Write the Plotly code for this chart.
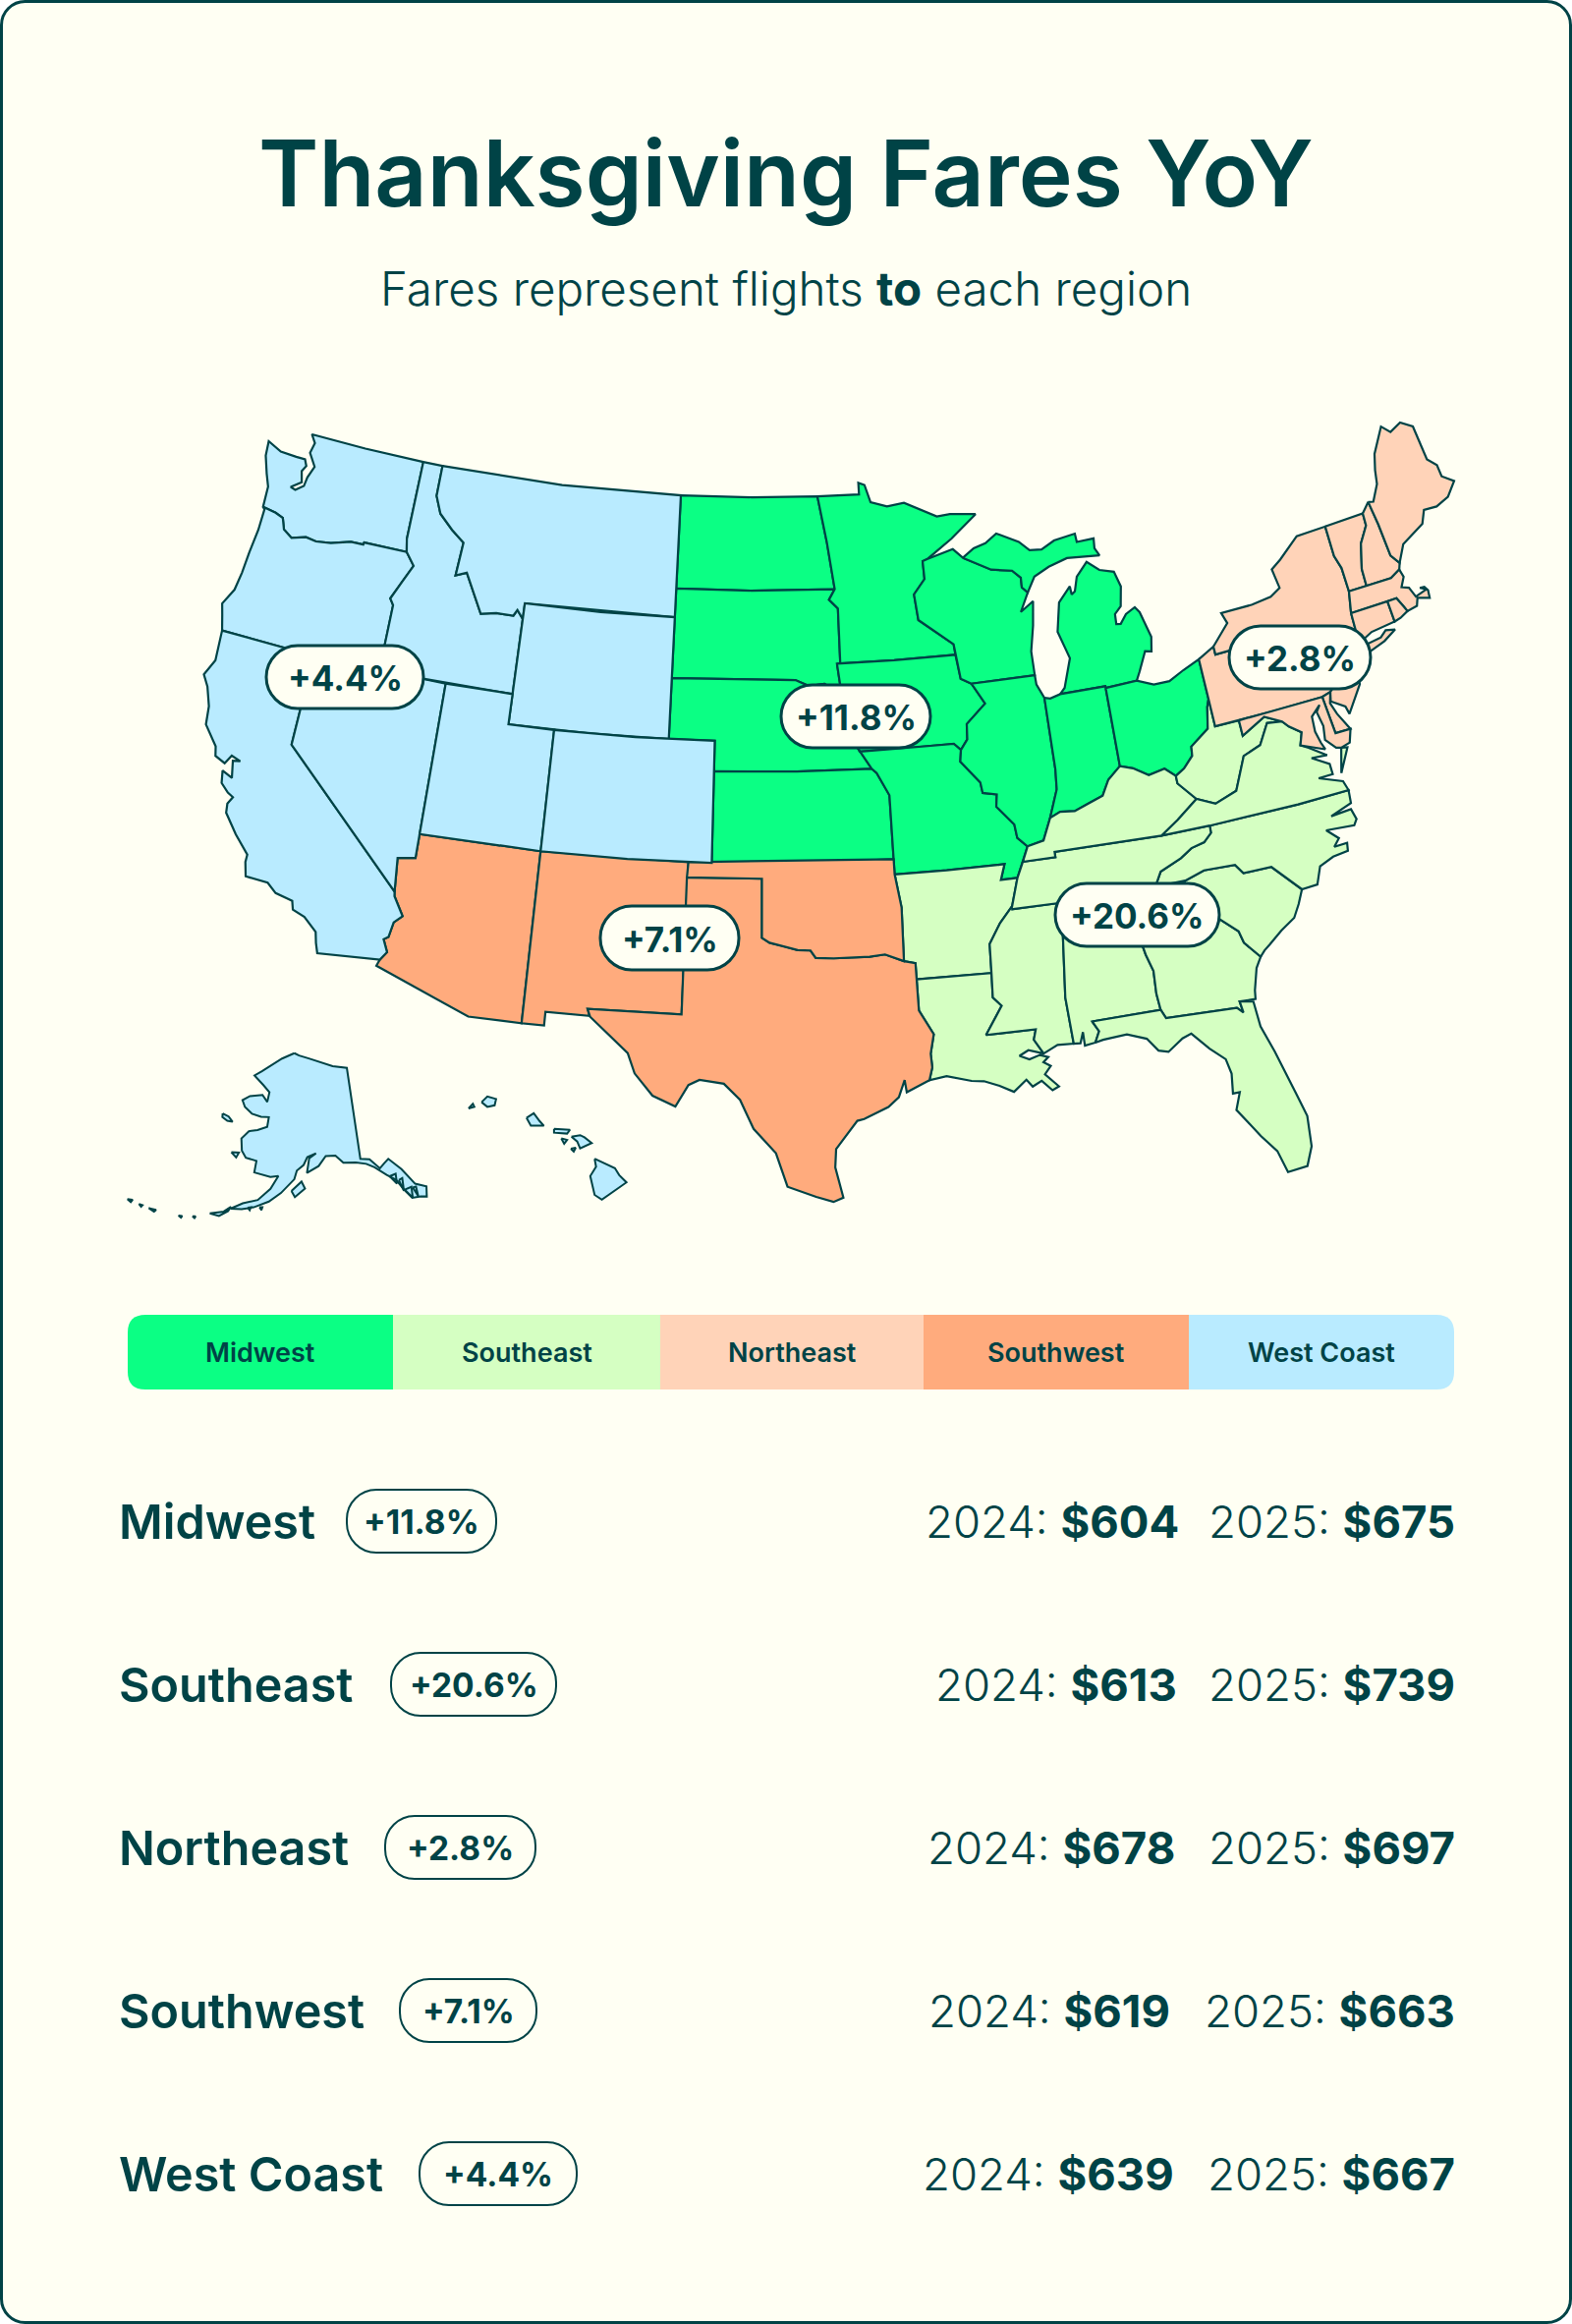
import math
import plotly.graph_objects as go

# ---------- values ----------
REGIONS = ["Midwest", "Southeast", "Northeast", "Southwest", "West Coast"]
PCT_CHANGE = [11.8, 20.6, 2.8, 7.1, 4.4]
FARES_2024 = [604, 613, 678, 619, 639]
FARES_2025 = [675, 739, 697, 663, 667]
TITLE = "Thanksgiving Fares YoY"
SUBTITLE = "Fares represent flights <b>to</b> each region"

# ---------- colours ----------
INK = "#004346"
PAPER = "#FFFFF3"
REGION_COLORS = ["#0BFF84", "#D5FFC2", "#FFD3B8", "#FFAB7D", "#B9EBFF"]

# ---------- state outlines, (lon, lat); a state may have several parts ----------
WA = [[(-117.03,49),(-120,49),(-122.76,49),(-122.5,48.75),(-122.6,48.4),(-122.2,48.0),(-122.4,47.6),(-122.45,47.3),(-122.8,47.1),(-123.05,47.15),(-122.6,47.4),(-122.75,47.75),(-122.6,47.95),(-122.75,48.15),(-123.2,48.15),(-124.0,48.17),(-124.72,48.38),(-124.65,47.9),(-124.35,47.35),(-124.1,46.95),(-124.05,46.27),(-123.4,46.2),(-123.0,46.1),(-122.8,45.75),(-122.35,45.55),(-121.7,45.7),(-121.2,45.65),(-120.5,45.72),(-119.6,45.92),(-119.0,45.93),(-118.98,46.0),(-116.92,46.0),(-117.04,46.42)]]
OR = [[(-124.05,46.27),(-123.4,46.2),(-123.0,46.1),(-122.8,45.75),(-122.35,45.55),(-121.7,45.7),(-121.2,45.65),(-120.5,45.72),(-119.6,45.92),(-119.0,45.93),(-118.98,46.0),(-116.92,46.0),(-116.75,45.85),(-116.47,45.6),(-116.85,45.0),(-117.22,44.4),(-117.03,44.2),(-117.03,42),(-120,42),(-124.2,42),(-124.4,42.5),(-124.55,42.85),(-124.2,43.4),(-124.1,44.0),(-124.05,44.7),(-123.95,45.5),(-123.95,46.2)]]
CA = [[(-124.2,42),(-120,42),(-120,39),(-114.63,35),(-114.6,34.85),(-114.15,34.25),(-114.45,34),(-114.55,33.5),(-114.72,33.4),(-114.5,33),(-114.72,32.72),(-117.12,32.53),(-117.25,32.85),(-117.35,33.2),(-117.9,33.6),(-118.4,33.75),(-118.5,34.03),(-119.2,34.15),(-119.6,34.42),(-120.5,34.45),(-120.65,34.9),(-120.65,35.15),(-121.3,35.7),(-121.9,36.3),(-121.95,36.6),(-121.8,36.85),(-122.05,36.95),(-122.4,37.2),(-122.5,37.6),(-122.05,37.45),(-122.2,38.0),(-121.9,38.05),(-122.3,38.15),(-122.5,37.85),(-122.95,38.0),(-123.05,38.3),(-123.7,38.9),(-123.8,39.5),(-124.1,40.1),(-124.4,40.45),(-124.1,41.0)]]
NV = [[(-120,42),(-114.04,42),(-114.04,37),(-114.04,36.2),(-114.4,36.15),(-114.75,36.1),(-114.63,35),(-120,39)]]
ID = [[(-117.03,49),(-116.05,49),(-116.05,48),(-115.7,47.45),(-115,47),(-114.35,46.65),(-114.45,45.55),(-113.95,45.7),(-113.45,45.05),(-113,44.45),(-112.3,44.55),(-111.5,44.55),(-111.35,44.75),(-111.05,44.48),(-111.05,42),(-117.03,42),(-117.03,44.2),(-117.22,44.4),(-116.85,45),(-116.47,45.6),(-116.75,45.85),(-116.92,46),(-117.04,46.42)]]
MT = [[(-116.05,49),(-110,49),(-104.05,49),(-104.05,45),(-111.05,45),(-111.05,44.48),(-111.35,44.75),(-111.5,44.55),(-112.3,44.55),(-113,44.45),(-113.45,45.05),(-113.95,45.7),(-114.45,45.55),(-114.35,46.65),(-115,47),(-115.7,47.45),(-116.05,48)]]
WY = [[(-111.05,45),(-107.5,45),(-104.05,45),(-104.05,41),(-107.5,41),(-111.05,41)]]
UT = [[(-114.04,42),(-111.05,42),(-111.05,41),(-109.05,41),(-109.05,37),(-114.04,37)]]
CO = [[(-109.05,41),(-105.5,41),(-102.05,41),(-102.05,37),(-105.5,37),(-109.05,37)]]
AK = [[(-156.5,71.3),(-155,71.1),(-152,70.85),(-149,70.5),(-145,70),(-141,69.65),(-141,60.3),(-139.2,60.1),(-137.5,59),(-136.5,59.4),(-135.5,59.75),(-133.5,58.4),(-131.8,56.6),(-130,56),(-130.5,55),(-131.5,55.2),(-133,55.3),(-134,56.3),(-135,57.5),(-136.5,58.2),(-138.5,59.2),(-140,59.7),(-142,60),(-144.5,60.1),(-146,60.9),(-148,60.9),(-149.5,59.9),(-151.8,59.2),(-151.4,60.7),(-150,61.2),(-151.8,60.8),(-152.5,60),(-153.8,59.4),(-154.2,58.5),(-156.5,57),(-158.5,56),(-161,55.2),(-163,54.8),(-164.9,54.6),(-163,55.4),(-160.5,56),(-158.5,57.3),(-157.3,58.7),(-158.8,58.5),(-162,58.7),(-162,59.9),(-164.2,60),(-165.3,60.6),(-166,61.8),(-164.8,62.7),(-163,63),(-161,63.5),(-161,64.5),(-162.8,64.4),(-165,64.5),(-167,65),(-168,65.6),(-166.5,66.2),(-163.5,66.6),(-162,66),(-161.9,67),(-163.8,67.6),(-166.7,68.35),(-165,68.95),(-163,69.7),(-160,70.6)],
      [(-171.5,63.7),(-170,63.6),(-168.8,63.2),(-170,63.15),(-171.3,63.35)],
      [(-167.3,60.2),(-165.8,60.35),(-166.1,59.8)],
      [(-154.6,57.3),(-152.8,58.3),(-152.1,57.6),(-153.9,56.7)],
      [(-168.1,53.6),(-166.8,53.95),(-165.9,54.15),(-164.9,54.8),(-165.2,54.3),(-166.5,53.6)],
      [(-170.7,52.8),(-170.2,52.9),(-170.3,52.7)],
      [(-172.9,52.4),(-172.3,52.5),(-172.4,52.3)],
      [(-177.8,51.95),(-176.6,52.1),(-176.8,51.85)],
      [(-179.5,51.9),(-178.9,51.95),(-179,51.75)],
      [(-181.5,51.8),(-180.7,52),(-180.8,51.7)],
      [(-162,55.05),(-161.5,55.15),(-161.6,54.85)],
      [(-160,55.3),(-159.5,55.35),(-159.6,55.05)],
      [(-136,58.0),(-134.8,58.1),(-135.0,57.1)],
      [(-134.5,57.4),(-133.8,57.5),(-134.1,56.2)],
      [(-133.9,56.3),(-132.6,56.4),(-132.9,55.3)],
      [(-132.4,56.3),(-131.8,56.3),(-131.9,55.3)]]
HI_HAWAII = [(-155.9,20.25),(-155.2,19.95),(-155.05,19.73),(-154.8,19.5),(-155.65,18.95),(-155.9,19.1),(-156.05,19.7),(-155.85,20.0)]
HI_MAUI = [(-156.7,20.95),(-156.4,21.0),(-156.25,20.93),(-156.0,20.75),(-156.4,20.58),(-156.5,20.8)]
HI_MOLOKAI = [(-157.3,21.2),(-156.75,21.17),(-156.85,21.05),(-157.3,21.08)]
HI_LANAI = [(-157.05,20.9),(-156.85,20.85),(-156.95,20.73)]
HI_KAHOOLAWE = [(-156.72,20.57),(-156.55,20.6),(-156.62,20.48)]
HI_OAHU = [(-158.25,21.55),(-158.0,21.7),(-157.8,21.45),(-157.65,21.3),(-158.1,21.3)]
HI_KAUAI = [(-159.8,22.05),(-159.6,22.23),(-159.3,22.15),(-159.35,21.95),(-159.6,21.9)]
HI_NIIHAU = [(-160.25,21.85),(-160.1,22.0),(-160.05,21.9)]
HI = [HI_HAWAII, HI_MAUI, HI_MOLOKAI, HI_LANAI, HI_KAHOOLAWE, HI_OAHU, HI_KAUAI, HI_NIIHAU]
AZ = [[(-114.04,37),(-109.05,37),(-109.05,31.33),(-111.07,31.33),(-114.81,32.5),(-114.72,32.72),(-114.5,33),(-114.72,33.4),(-114.55,33.5),(-114.45,34),(-114.15,34.25),(-114.6,34.85),(-114.63,35),(-114.75,36.1),(-114.4,36.15),(-114.04,36.2)]]
NM = [[(-109.05,37),(-103,37),(-103.05,32),(-106.62,32),(-106.53,31.78),(-108.2,31.78),(-108.2,31.33),(-109.05,31.33)]]
TX = [[(-103.04,36.5),(-100,36.5),(-100,34.56),(-99.7,34.4),(-99.2,34.3),(-98.6,34.15),(-98.1,34.13),(-97.9,33.88),(-97.2,33.85),(-96.6,33.85),(-95.8,33.85),(-95.2,33.9),(-94.48,33.64),(-94.04,33.55),(-94.04,33.02),(-94.04,31.99),(-93.55,31.18),(-93.72,30.55),(-93.7,30.1),(-93.84,29.69),(-94.7,29.35),(-94.75,29.75),(-95,29.2),(-95.4,28.9),(-96.3,28.55),(-96.55,28.5),(-97,28),(-97.35,27.6),(-97.4,27),(-97.15,26),(-97.5,25.87),(-98.1,26.05),(-99.1,26.4),(-99.5,27.5),(-100.3,28.3),(-100.8,29.25),(-101.4,29.77),(-102.3,29.88),(-102.7,29.7),(-103.15,28.98),(-104,29.3),(-104.7,30),(-105,30.65),(-106.5,31.75),(-106.62,32),(-103.05,32)]]
OK = [[(-103,37),(-94.62,37),(-94.62,36.5),(-94.43,35.4),(-94.48,33.64),(-95.2,33.9),(-95.8,33.85),(-96.6,33.85),(-97.2,33.85),(-97.9,33.88),(-98.1,34.13),(-98.6,34.15),(-99.2,34.3),(-99.7,34.4),(-100,34.56),(-100,36.5),(-103.04,36.5)]]
ND = [[(-104.05,49),(-100.5,49),(-97.23,49),(-96.85,47.5),(-96.56,45.94),(-100.5,45.94),(-104.05,45.94)]]
SD = [[(-104.05,45.94),(-100.5,45.94),(-96.56,45.94),(-96.85,45.6),(-96.45,45.3),(-96.45,43.5),(-96.6,43.5),(-96.45,42.49),(-97.2,42.85),(-97.9,42.8),(-98.5,43),(-104.05,43)]]
NE_ = [[(-104.05,43),(-98.5,43),(-97.9,42.8),(-97.2,42.85),(-96.45,42.49),(-96.25,42),(-95.9,41.2),(-95.85,40.7),(-95.3,40),(-98.5,40),(-102.05,40),(-102.05,41),(-104.05,41)]]
KS = [[(-102.05,40),(-98.5,40),(-95.3,40),(-95.1,39.85),(-94.62,39.1),(-94.62,37),(-98.5,37),(-102.05,37)]]
MN = [[(-97.23,49),(-95.15,49),(-95.15,49.38),(-94.85,49.3),(-94.6,48.72),(-93.8,48.55),(-92.95,48.62),(-92,48.3),(-91.4,48.07),(-90.75,48.1),(-89.5,48),(-90.8,47.3),(-92.05,46.72),(-92.3,46.66),(-92.29,46.07),(-92.85,45.6),(-92.75,44.75),(-91.25,43.85),(-91.22,43.5),(-94,43.5),(-96.45,43.5),(-96.45,45.3),(-96.85,45.6),(-96.56,45.94),(-96.85,47.5)]]
IA = [[(-96.6,43.5),(-94,43.5),(-91.22,43.5),(-91.1,42.7),(-90.65,42.5),(-90.15,41.8),(-91.05,41.2),(-91.1,40.7),(-91.42,40.38),(-91.7,40.6),(-93.5,40.6),(-95.77,40.58),(-95.85,40.7),(-95.9,41.2),(-96.25,42),(-96.45,42.49)]]
MO = [[(-95.77,40.58),(-93.5,40.6),(-91.7,40.6),(-91.42,40.38),(-91.5,40),(-90.75,39.25),(-90.7,38.9),(-90.12,38.8),(-90.2,38.4),(-89.55,37.75),(-89.5,37.3),(-89.13,36.98),(-89.4,36.5),(-89.7,36),(-90.37,36),(-90.15,36.5),(-92.5,36.5),(-94.62,36.5),(-94.62,39.1),(-95.1,39.85),(-95.3,40),(-95.85,40.7)]]
WI = [[(-92.05,46.72),(-90.8,46.95),(-90.37,46.63),(-89.1,46.13),(-88.13,46),(-87.77,45.73),(-87.79,45.41),(-87.55,45.22),(-88,44.62),(-87.37,44.91),(-87.54,44.12),(-87.8,43.29),(-87.8,42.5),(-90.65,42.5),(-91.1,42.7),(-91.22,43.5),(-91.25,43.85),(-92.75,44.75),(-92.85,45.6),(-92.29,46.07),(-92.3,46.66)]]
MI = [[(-86.82,41.76),(-84.8,41.76),(-84.8,41.7),(-83.4,41.74),(-83.19,42.02),(-82.77,42.63),(-82.49,42.58),(-82.36,43.05),(-82.64,43.92),(-82.81,44.11),(-83.27,43.95),(-83.59,43.67),(-83.79,43.69),(-83.76,44.02),(-83.43,44.24),(-83.24,44.87),(-83.42,45.39),(-84.07,45.54),(-84.59,45.88),(-85.17,45.46),(-85.38,45),(-85.55,44.92),(-85.57,45.19),(-86.19,44.73),(-86.48,43.79),(-86.13,42.87),(-86.58,41.94)],
      [(-90.37,46.63),(-89.8,46.9),(-89.21,47.01),(-88.63,47.28),(-87.61,46.9),(-87.16,46.58),(-86.59,46.54),(-85.93,46.76),(-84.89,46.86),(-84.87,46.58),(-84.05,46.59),(-84.1,46.27),(-83.93,46.01),(-84.59,46.05),(-85.47,46.12),(-86.39,45.94),(-87.13,45.7),(-87.55,45.22),(-87.79,45.41),(-87.77,45.73),(-88.13,46),(-89.1,46.13)]]
IL = [[(-90.65,42.5),(-87.8,42.5),(-87.79,42.19),(-87.53,41.72),(-87.53,39.35),(-87.6,38.7),(-88.05,37.8),(-88.45,37.1),(-89.13,36.98),(-89.5,37.3),(-89.55,37.75),(-90.2,38.4),(-90.12,38.8),(-90.7,38.9),(-90.75,39.25),(-91.5,40),(-91.42,40.38),(-91.1,40.7),(-91.05,41.2),(-90.15,41.8)]]
IN = [[(-87.53,41.72),(-87.28,41.67),(-86.82,41.76),(-84.8,41.76),(-84.8,41.7),(-84.82,39.1),(-85.4,38.73),(-85.75,38.25),(-86.3,38.1),(-87,37.9),(-87.6,37.95),(-88.05,37.8),(-87.6,38.7),(-87.53,39.35)]]
OH = [[(-84.8,41.7),(-83.4,41.74),(-82.7,41.5),(-82,41.5),(-81.3,41.75),(-80.52,41.98),(-80.52,40.64),(-80.65,40.4),(-80.85,39.7),(-81.7,39.25),(-81.75,38.95),(-82.2,38.6),(-82.6,38.42),(-83,38.73),(-83.7,38.63),(-84.3,38.95),(-84.82,39.1)]]
PA = [[(-80.52,41.98),(-79.76,42.27),(-79.76,42),(-75.35,42),(-75.05,41.6),(-74.7,41.35),(-75.1,41),(-75.2,40.7),(-74.75,40.2),(-75.4,39.8),(-75.79,39.72),(-78,39.72),(-80.52,39.72),(-80.52,40.64)]]
NY = [[(-79.76,42.27),(-79.76,42),(-75.35,42),(-75.05,41.6),(-74.7,41.35),(-73.9,41),(-74.03,40.7),(-73.73,40.9),(-73.65,41),(-73.48,41.21),(-73.55,41.3),(-73.49,42.05),(-73.27,42.75),(-73.25,43.55),(-73.4,44),(-73.35,45.01),(-74.75,45),(-75.8,44.43),(-76.3,44.2),(-76.2,43.55),(-76.7,43.35),(-77.6,43.27),(-79.05,43.27),(-78.9,42.9)],
      [(-74.03,40.6),(-73.75,40.87),(-72.6,40.98),(-72.3,41.15),(-71.9,41.07),(-72.5,40.83),(-73.4,40.62)]]
NJ = [[(-74.7,41.35),(-73.9,41),(-74.25,40.5),(-74,40.45),(-74.1,39.75),(-74.9,38.93),(-74.97,39.2),(-75.5,39.5),(-75.4,39.8),(-74.75,40.2),(-75.2,40.7),(-75.1,41)]]
DE = [[(-75.79,39.72),(-75.4,39.8),(-75.55,39.45),(-75.4,39.05),(-75.05,38.45),(-75.7,38.46)]]
MD = [[(-79.48,39.72),(-75.79,39.72),(-75.7,38.46),(-75.05,38.45),(-75.25,38.03),(-75.65,37.95),(-75.85,38),(-76.2,38.35),(-76.1,38.8),(-76.2,39.3),(-76,39.5),(-76.45,39.2),(-76.5,38.7),(-76.4,38.3),(-76.3,38.05),(-77,38.3),(-77.25,38.4),(-77.05,38.8),(-77.5,39.1),(-77.72,39.32),(-78.4,39.62),(-79.48,39.2)]]
VT = [[(-73.35,45.01),(-71.5,45.01),(-71.55,44.6),(-72.05,44.1),(-72.4,43.3),(-72.45,42.73),(-73.27,42.75),(-73.25,43.55),(-73.4,44)]]
NH = [[(-71.5,45.01),(-71.08,45.3),(-71,44.5),(-70.97,43.4),(-70.7,43.07),(-70.82,42.87),(-71.3,42.7),(-72.45,42.73),(-72.4,43.3),(-72.05,44.1),(-71.55,44.6)]]
ME = [[(-71.08,45.3),(-70.85,45.25),(-70.4,45.75),(-70.25,46.2),(-70,46.7),(-69.23,47.46),(-68.9,47.18),(-68.3,47.35),(-67.8,47.07),(-67.78,45.9),(-67.45,45.6),(-67.45,45.2),(-67,44.9),(-67.55,44.5),(-68.2,44.35),(-68.8,44.4),(-69.1,44),(-69.8,43.75),(-70.25,43.6),(-70.7,43.07),(-70.97,43.4),(-71,44.5)]]
MA = [[(-73.49,42.05),(-71.8,42.02),(-71.38,42.02),(-71.2,41.67),(-71.12,41.5),(-70.65,41.55),(-70.5,41.8),(-70,41.65),(-69.95,41.9),(-70.05,42.05),(-70.25,42.07),(-70,41.95),(-70.55,41.85),(-70.7,42.2),(-71,42.3),(-70.75,42.6),(-70.82,42.87),(-71.3,42.7),(-72.45,42.73),(-73.27,42.75)]]
CT = [[(-73.49,42.05),(-71.8,42.02),(-71.8,41.32),(-72.9,41.25),(-73.65,41),(-73.48,41.21),(-73.55,41.3)]]
RI = [[(-71.8,42.02),(-71.38,42.02),(-71.2,41.67),(-71.12,41.5),(-71.5,41.37),(-71.8,41.32)]]
AR = [[(-94.62,36.5),(-92.5,36.5),(-90.15,36.5),(-90.37,36),(-89.7,36),(-90.05,35.1),(-90.6,34.6),(-91.1,33.95),(-91.15,33),(-94.04,33.02),(-94.04,33.55),(-94.48,33.64),(-94.43,35.4)]]
LA = [[(-94.04,33.02),(-91.15,33),(-91.2,32.2),(-90.9,31.9),(-91.6,31),(-89.73,31),(-89.85,30.67),(-89.55,30.18),(-90.1,30.35),(-90.45,30.2),(-90.1,30.05),(-89.7,30.15),(-89.4,30.05),(-89.6,29.9),(-89.35,29.75),(-89.6,29.5),(-89.15,29.05),(-89.4,28.95),(-89.75,29.3),(-90.1,29.15),(-90.3,29.4),(-90.8,29.05),(-91.3,29.3),(-91.85,29.5),(-92.3,29.55),(-93.2,29.78),(-93.84,29.69),(-93.7,30.1),(-93.72,30.55),(-93.55,31.18),(-94.04,31.99)]]
MS = [[(-90.1,35),(-88.2,35),(-88.1,34.9),(-88.47,31.9),(-88.4,30.37),(-89,30.4),(-89.55,30.18),(-89.85,30.67),(-89.73,31),(-91.6,31),(-90.9,31.9),(-91.2,32.2),(-91.15,33),(-91.1,33.95),(-90.6,34.6),(-90.05,35.1)]]
AL = [[(-88.2,35),(-85.6,34.98),(-85.18,32.87),(-85,32.3),(-85.05,31.55),(-85,31),(-87.6,31),(-87.4,30.65),(-87.6,30.3),(-88,30.25),(-88,30.7),(-88.15,30.35),(-88.4,30.37),(-88.47,31.9),(-88.1,34.9)]]
GA = [[(-85.6,34.98),(-83.11,35),(-83.35,34.7),(-82.85,34.45),(-82.2,33.6),(-81.5,33),(-81.4,32.6),(-80.9,32.03),(-81.15,31.7),(-81.4,31),(-81.45,30.72),(-82.05,30.75),(-82,30.37),(-82.2,30.57),(-84.86,30.7),(-85,31),(-85.05,31.55),(-85,32.3),(-85.18,32.87)]]
FL = [[(-87.6,31),(-85,31),(-84.86,30.7),(-82.2,30.57),(-82,30.37),(-82.05,30.75),(-81.55,30.65),(-81.5,29.8),(-81.2,28.9),(-81,28.2),(-80.8,27.4),(-80.6,26.6),(-80.7,25.6),(-81,25),(-81.7,24.95),(-81.9,25.7),(-82.35,26.3),(-82.7,26.85),(-83,27.3),(-82.75,27.85),(-83,27.85),(-82.9,28.5),(-83,29),(-83.5,29.45),(-84.05,30.05),(-84.4,29.95),(-85,29.6),(-85.35,29.7),(-85.7,30.15),(-86.4,30.4),(-87.3,30.35),(-87.6,30.3),(-87.4,30.65)]]
SC = [[(-83.35,34.7),(-83.11,35),(-82.3,35.2),(-81.05,35.15),(-80.8,34.82),(-79.67,34.8),(-78.73,33.84),(-79,33.4),(-79.3,33),(-79.9,32.7),(-80.45,32.35),(-80.7,32.2),(-80.9,32.03),(-81.4,32.6),(-81.5,33),(-82.2,33.6),(-82.85,34.45)]]
NC = [[(-84.32,35),(-83.11,35),(-82.3,35.2),(-81.05,35.15),(-80.8,34.82),(-79.67,34.8),(-78.73,33.84),(-78.1,33.86),(-77.81,34.41),(-77.21,34.6),(-76.59,34.65),(-76.53,34.91),(-77.06,34.9),(-76.79,35.13),(-77.19,35.49),(-76.06,35.39),(-75.9,35.57),(-76,35.93),(-76.84,35.89),(-75.93,36.12),(-75.87,36.55),(-78,36.56),(-81.68,36.59),(-81.7,36.35),(-82.05,36.1),(-82.6,36),(-83.1,35.75),(-84,35.45)]]
TN = [[(-90.1,35),(-90.05,35.1),(-89.7,36),(-89.4,36.5),(-88.07,36.5),(-88.07,36.68),(-83.68,36.6),(-81.68,36.59),(-81.7,36.35),(-82.05,36.1),(-82.6,36),(-83.1,35.75),(-84,35.45),(-84.32,35),(-85.6,34.98),(-88.2,35)]]
KY = [[(-82.6,38.42),(-83,38.73),(-83.7,38.63),(-84.3,38.95),(-84.82,39.1),(-85.4,38.73),(-85.75,38.25),(-86.3,38.1),(-87,37.9),(-87.6,37.95),(-88.05,37.8),(-88.45,37.1),(-89.13,36.98),(-89.4,36.5),(-88.07,36.5),(-88.07,36.68),(-83.68,36.6),(-82.9,37),(-81.97,37.54),(-82.6,38.17)]]
WV = [[(-82.6,38.42),(-82.2,38.6),(-81.75,38.95),(-81.7,39.25),(-80.85,39.7),(-80.65,40.4),(-80.52,40.64),(-80.52,39.72),(-79.48,39.72),(-79.48,39.2),(-78.4,39.62),(-77.72,39.32),(-78.35,39.4),(-78.87,38.76),(-79.65,38.55),(-80.3,37.5),(-81.25,37.25),(-81.97,37.54),(-82.6,38.17)]]
VA = [[(-83.68,36.6),(-81.68,36.59),(-78,36.56),(-75.87,36.55),(-75.98,36.88),(-76.3,37),(-76.9,37.2),(-76.3,37.2),(-76.3,37.55),(-76.95,37.9),(-76.3,37.85),(-76.95,38.25),(-77.25,38.4),(-77.05,38.8),(-77.5,39.1),(-77.72,39.32),(-78.35,39.4),(-78.87,38.76),(-79.65,38.55),(-80.3,37.5),(-81.25,37.25),(-81.97,37.54),(-82.9,37)],
      [(-75.95,37.15),(-75.4,37.9),(-75.65,37.95)]]

REGION_STATES = {
    "Midwest": [ND, SD, NE_, KS, MN, IA, MO, WI, MI, IL, IN, OH],
    "Southeast": [AR, LA, MS, AL, GA, FL, SC, NC, TN, KY, WV, VA],
    "Northeast": [PA, NY, NJ, DE, MD, VT, NH, ME, MA, CT, RI],
    "Southwest": [AZ, NM, TX, OK],
    "West Coast": [WA, OR, CA, NV, ID, MT, WY, UT, CO],
}
INSET_STATES = {"AK": AK, "HI": HI}

# ---------- projections (equidistant conics fitted to the picture) ----------
def conic(lon, lat, lon0, n, rho_ref, lat_ref, per_deg, cx, apex_y):
    rho = rho_ref + per_deg * (lat_ref - lat)
    th = math.radians(n * (lon - lon0))
    return cx + rho * math.sin(th), apex_y + rho * math.cos(th)

def proj_main(lon, lat):
    return conic(lon, lat, -100, 0.70, 2041, 37, 31.05, 775.5, -1162.3)

def proj_ak(lon, lat):
    return conic(lon, lat, -150.4, 0.90, 223, 70, 10, 319.7, 862.7)

def proj_hi(lon, lat):
    return 617 + 29.5 * (lon + 155.5), 1200 - 32 * (lat - 19.6)

fig = go.Figure()

def add_state(parts, color, proj, width=2.2):
    xs, ys = [], []
    for part in parts:
        for lon, lat in list(part) + [part[0]]:
            x, y = proj(lon, lat)
            xs.append(round(x, 2)); ys.append(round(y, 2))
        xs.append(None); ys.append(None)
    fig.add_trace(go.Scatter(x=xs, y=ys, mode="lines", fill="toself", fillcolor=color,
                             line=dict(color=INK, width=width), hoverinfo="skip", showlegend=False))

for region, color in zip(REGIONS, REGION_COLORS):
    for st in REGION_STATES[region]:
        add_state(st, color, proj_main)
west = REGION_COLORS[REGIONS.index("West Coast")]
add_state(INSET_STATES["AK"], west, proj_ak, 2)
add_state(INSET_STATES["HI"], west, proj_hi, 2)

# ---------- helpers ----------
def pill_path(x0, y0, x1, y1, r):
    k = 0.45 * r
    return (f"M {x0+r} {y0} L {x1-r} {y0} C {x1-k} {y0} {x1} {y0+k} {x1} {y0+r} L {x1} {y1-r} "
            f"C {x1} {y1-k} {x1-k} {y1} {x1-r} {y1} L {x0+r} {y1} C {x0+k} {y1} {x0} {y1-k} {x0} {y1-r} "
            f"L {x0} {y0+r} C {x0} {y0+k} {x0+k} {y0} {x0+r} {y0} Z")

shapes, notes = [], []

def text(x, y, s, size, weight=400, anchor="center", vanchor="middle"):
    notes.append(dict(x=x, y=y, xref="x", yref="y", text=s, showarrow=False, xanchor=anchor, yanchor=vanchor,
                      borderpad=0, font=dict(family="Inter", size=size, color=INK, weight=weight)))

def pct_label(v):
    return f"+{v}%"

# card
shapes.append(dict(type="path", path=pill_path(1.5, 1.5, 1598.5, 2363.5, 24), fillcolor=PAPER,
                   line=dict(color=INK, width=3), layer="below"))

# title
text(800, 176, TITLE, 93, 600)
text(800, 293, SUBTITLE, 47.5, 300)

# map badges
MAP_BADGES = {"West Coast": (271, 657, 431, 721), "Midwest": (795, 697, 947, 761), "Northeast": (1251, 637, 1395, 701),
              "Southwest": (611, 922, 752, 987), "Southeast": (1074, 899, 1241, 963)}
for region, pct in zip(REGIONS, PCT_CHANGE):
    x0, y0, x1, y1 = MAP_BADGES[region]
    shapes.append(dict(type="path", path=pill_path(x0, y0, x1, y1, 32), fillcolor=PAPER,
                       line=dict(color=INK, width=3), layer="above"))
    text((x0 + x1) / 2, (y0 + y1) / 2 + 1, pct_label(pct), 35, 700)

# colour key
KEY_EDGES = [130, 400, 672, 940, 1210, 1480]
KEY_TOP, KEY_BOTTOM = 1338, 1414
for i, (region, color) in enumerate(zip(REGIONS, REGION_COLORS)):
    x0, x1 = KEY_EDGES[i], KEY_EDGES[i + 1]
    if i == 0:
        path = (f"M {x0+18} {KEY_TOP} L {x1} {KEY_TOP} L {x1} {KEY_BOTTOM} L {x0+18} {KEY_BOTTOM} "
                f"Q {x0} {KEY_BOTTOM} {x0} {KEY_BOTTOM-18} L {x0} {KEY_TOP+18} Q {x0} {KEY_TOP} {x0+18} {KEY_TOP} Z")
    elif i == len(REGIONS) - 1:
        path = (f"M {x0} {KEY_TOP} L {x1-18} {KEY_TOP} Q {x1} {KEY_TOP} {x1} {KEY_TOP+18} L {x1} {KEY_BOTTOM-18} "
                f"Q {x1} {KEY_BOTTOM} {x1-18} {KEY_BOTTOM} L {x0} {KEY_BOTTOM} Z")
    else:
        path = f"M {x0} {KEY_TOP} L {x1} {KEY_TOP} L {x1} {KEY_BOTTOM} L {x0} {KEY_BOTTOM} Z"
    shapes.append(dict(type="path", path=path, fillcolor=color, line=dict(width=0), layer="above"))
    text((x0 + x1) / 2, (KEY_TOP + KEY_BOTTOM) / 2, region, 27, 600)

# table rows
ROW_CENTERS = [1548, 1714, 1880, 2046, 2212]
PILL_X = [(353, 505), (398, 566), (392, 545), (407, 546), (427, 587)]
YEAR_24_RIGHT = [1201, 1199, 1197, 1192, 1196]
for i, region in enumerate(REGIONS):
    yc = ROW_CENTERS[i]
    text(120, yc, region, 48.5, 600, anchor="left")
    x0, x1 = PILL_X[i]
    shapes.append(dict(type="path", path=pill_path(x0, yc - 32, x1, yc + 32, 30), fillcolor=PAPER,
                       line=dict(color=INK, width=2), layer="above"))
    text((x0 + x1) / 2, yc + 1, pct_label(PCT_CHANGE[i]), 33.5, 700)
    text(YEAR_24_RIGHT[i], yc, f"2024: <b>${FARES_2024[i]}</b>", 45.5, 300, anchor="right")
    text(1482, yc, f"2025: <b>${FARES_2025[i]}</b>", 45.5, 300, anchor="right")

fig.update_layout(
    width=1600, height=2365, margin=dict(l=0, r=0, t=0, b=0, pad=0), autosize=False,
    paper_bgcolor="#FFFFFF", plot_bgcolor="rgba(0,0,0,0)", shapes=shapes, annotations=notes, showlegend=False,
    xaxis=dict(range=[0, 1600], visible=False, fixedrange=True),
    yaxis=dict(range=[2365, 0], visible=False, fixedrange=True),
)
fig.write_html("out.html", config={"displayModeBar": False}, post_script="document.body.style.margin='0';")
